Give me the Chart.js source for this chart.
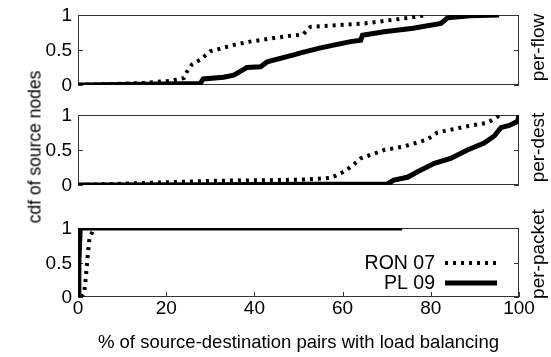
<!DOCTYPE html>
<html>
<head>
<meta charset="utf-8">
<script src="https://cdn.jsdelivr.net/npm/chart.js@4"></script>
<style>
  body { margin: 0; background: #fff; }
  #wrap { position: relative; width: 551px; height: 357px; }
  #wrap canvas { position: absolute; left: 0; }
  #flowChart { top: 0; }
  #destChart { top: 100px; }
  #packetChart { top: 200px; }
  #yTitle {
    position: absolute;
    left: 35px;
    top: 147px;
    transform: translate(-50%, -50%) rotate(-90deg);
    font: 17.5px 'Liberation Sans', Arial, sans-serif;
    color: #000;
    white-space: nowrap;
  }
</style>
</head>
<body>
<div id="wrap">
  <canvas id="flowChart" width="551" height="100"></canvas>
  <canvas id="destChart" width="551" height="100"></canvas>
  <canvas id="packetChart" width="551" height="157"></canvas>
  <div id="yTitle">cdf of source nodes</div>
</div>
<script>
const seriesNames = ["RON 07", "PL 09"];
const panelNames = ["per-flow", "per-dest", "per-packet"];
const xTicks = [0, 20, 40, 60, 80, 100];
const yTicks = [0, 0.5, 1];

// per-flow
const flowRonX = [0, 5, 10, 15, 21, 24, 24.7, 25.8, 27.7, 30, 35.2, 39, 44.4, 49, 51, 52.7, 60, 65, 70, 75, 79];
const flowRonY = [0, 0.01, 0.02, 0.03, 0.06, 0.1, 0.19, 0.29, 0.36, 0.48, 0.57, 0.62, 0.67, 0.71, 0.72, 0.83, 0.86, 0.88, 0.92, 0.96, 1];
const flowPlX = [0, 15, 27.7, 28.4, 33, 35.3, 37.2, 38.3, 41.4, 42.9, 48.9, 50.5, 55, 61.8, 64.1, 64.5, 69.4, 76, 82.3, 83.8, 89, 95.5];
const flowPlY = [0, 0.01, 0.02, 0.086, 0.11, 0.14, 0.21, 0.25, 0.26, 0.33, 0.43, 0.46, 0.53, 0.62, 0.64, 0.71, 0.76, 0.81, 0.88, 0.96, 0.99, 1];

// per-dest
const destRonX = [0, 5, 15, 30.7, 45, 52, 57.3, 60.3, 62.5, 64.1, 69.4, 73.9, 79.2, 81.5, 88.3, 92.9, 95.2, 95.5];
const destRonY = [0, 0.01, 0.03, 0.06, 0.07, 0.08, 0.1, 0.19, 0.29, 0.38, 0.5, 0.55, 0.65, 0.75, 0.84, 0.89, 0.98, 1];
const destPlX = [0, 30, 52, 70.2, 71.6, 74.7, 77, 80.8, 84.5, 88.3, 92.1, 94.4, 95.9, 97.8, 99.7, 100];
const destPlY = [0, 0.005, 0.01, 0.015, 0.07, 0.11, 0.19, 0.31, 0.38, 0.5, 0.6, 0.7, 0.82, 0.85, 0.91, 1];

// per-packet
const packetRonX = [0.8, 1.4, 1.8, 2.2, 2.6, 3.1, 3.6, 20];
const packetRonY = [0, 0.05, 0.3, 0.6, 0.85, 0.92, 1, 1];
const packetPlX = [0, 0.2, 0.5, 73.5];
const packetPlY = [0, 0.5, 1, 1];

const fontFamily = "'Liberation Sans', Arial, sans-serif";

// box, inward ticks, y tick labels, side label and the little legend
const framePlugin = {
  id: "frame",
  beforeDatasetsDraw(chart, args, opts) {
    const { ctx, chartArea, scales } = chart;
    const { left, right, top, bottom } = chartArea;
    ctx.save();
    ctx.strokeStyle = "#333";
    ctx.lineWidth = 1;
    ctx.strokeRect(left + 0.5, top + 0.5, right - left - 1, bottom - top - 1);
    ctx.beginPath();
    scales.y.ticks.forEach((t) => {
      const y = Math.round(scales.y.getPixelForValue(t.value)) + 0.5;
      ctx.moveTo(left, y);
      ctx.lineTo(left + 5, y);
      ctx.moveTo(right, y);
      ctx.lineTo(right - 5, y);
    });
    if (opts.xTicks) {
      scales.x.ticks.forEach((t) => {
        const x = Math.round(scales.x.getPixelForValue(t.value)) + 0.5;
        ctx.moveTo(x, bottom);
        ctx.lineTo(x, bottom - 5);
      });
    }
    ctx.stroke();

    ctx.fillStyle = "#000";
    ctx.font = "19px " + fontFamily;
    ctx.textAlign = "right";
    ctx.textBaseline = "middle";
    scales.y.ticks.forEach((t) => {
      ctx.fillText(String(t.value), left - 6, scales.y.getPixelForValue(t.value) + 1);
    });

    ctx.textAlign = "center";
    ctx.translate(right + 20, (top + bottom) / 2 + opts.labelShift);
    ctx.rotate(-Math.PI / 2);
    ctx.fillText(opts.label, 0, 0);
    ctx.restore();
  },
  afterDatasetsDraw(chart, args, opts) {
    if (!opts.legend) return;
    const { ctx, chartArea } = chart;
    ctx.save();
    ctx.font = "19.5px " + fontFamily;
    ctx.fillStyle = "#000";
    ctx.textAlign = "right";
    ctx.textBaseline = "middle";
    seriesNames.forEach((name, i) => {
      const ds = chart.data.datasets.find((d) => d.label === name);
      const y = chartArea.top + 35 + i * 20;
      const x = chartArea.right - 84;
      ctx.fillText(name, x, y + 1);
      ctx.strokeStyle = ds.borderColor;
      ctx.lineWidth = ds.borderWidth;
      ctx.setLineDash(ds.borderDash || []);
      ctx.beginPath();
      ctx.moveTo(x + 10, y);
      ctx.lineTo(x + 62, y);
      ctx.stroke();
    });
    ctx.restore();
  }
};

function toPoints(xs, ys) {
  return xs.map((x, i) => ({ x, y: ys[i] }));
}

function buildChart(id, ronX, ronY, plX, plY, cfg) {
  const tickFont = { family: fontFamily, size: 19, lineHeight: 0.8 };
  return new Chart(document.getElementById(id), {
    type: "line",
    data: {
      datasets: [
        {
          label: seriesNames[1],
          data: toPoints(plX, plY),
          borderColor: "#000",
          borderWidth: 5,
          pointRadius: 0,
          order: 0
        },
        {
          label: seriesNames[0],
          data: toPoints(ronX, ronY),
          borderColor: "#000",
          borderWidth: 4,
          borderDash: [3, 5],
          pointRadius: 0,
          order: 1
        }
      ]
    },
    options: {
      responsive: false,
      animation: false,
      events: [],
      layout: { padding: { left: 0, right: 32, top: cfg.top, bottom: cfg.bottom } },
      plugins: {
        legend: { display: false },
        tooltip: { enabled: false },
        frame: { label: cfg.label, labelShift: cfg.labelShift, xTicks: cfg.showX, legend: cfg.legend }
      },
      scales: {
        x: {
          type: "linear",
          min: 0,
          max: 100,
          display: cfg.showX,
          grid: { display: false, drawTicks: false },
          border: { display: false },
          ticks: { font: tickFont, color: "#000", padding: 4, maxRotation: 0, autoSkip: false },
          afterBuildTicks: (s) => { s.ticks = xTicks.map((v) => ({ value: v })); },
          title: {
            display: cfg.showX,
            text: "% of source-destination pairs with load balancing",
            font: { family: fontFamily, size: 18.5 },
            color: "#000",
            padding: { top: 0, bottom: 3 }
          },
          afterFit: (s) => { s.height = cfg.showX ? 60 : 0; }
        },
        y: {
          min: 0,
          max: 1,
          grid: { display: false, drawTicks: false },
          border: { display: false },
          // labels are drawn by framePlugin
          ticks: { display: false },
          afterBuildTicks: (s) => { s.ticks = yTicks.map((v) => ({ value: v })); },
          afterFit: (s) => { s.width = 78; }
        }
      }
    },
    plugins: [framePlugin]
  });
}

buildChart("flowChart", flowRonX, flowRonY, flowPlX, flowPlY,
  { top: 15, bottom: 15, label: panelNames[0], labelShift: -2.5, showX: false, legend: false });
buildChart("destChart", destRonX, destRonY, destPlX, destPlY,
  { top: 15, bottom: 15, label: panelNames[1], labelShift: -2.5, showX: false, legend: false });
buildChart("packetChart", packetRonX, packetRonY, packetPlX, packetPlY,
  { top: 28, bottom: 0, label: panelNames[2], labelShift: -8.5, showX: true, legend: true });
</script>
</body>
</html>
